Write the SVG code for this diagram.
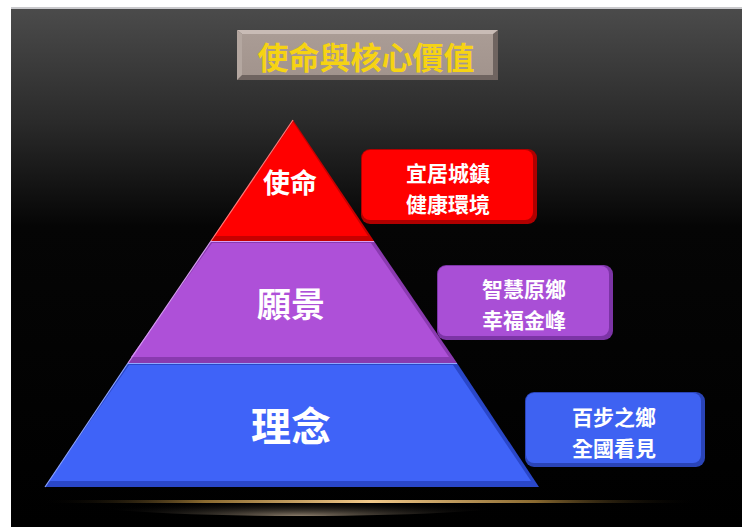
<svg xmlns="http://www.w3.org/2000/svg" width="742" height="527" viewBox="0 0 742 527">
<defs>
<linearGradient id="bg" x1="0" y1="0" x2="0" y2="1">
<stop offset="0" stop-color="#4b4b4b"/>
<stop offset="0.22" stop-color="#2a2a2a"/>
<stop offset="0.42" stop-color="#050505"/>
<stop offset="1" stop-color="#000"/>
</linearGradient>
<linearGradient id="line" x1="0" y1="0" x2="1" y2="0">
<stop offset="0" stop-color="#000" stop-opacity="0"/>
<stop offset="0.25" stop-color="#8a6a30"/>
<stop offset="0.5" stop-color="#f2c98a"/>
<stop offset="0.75" stop-color="#8a6a30"/>
<stop offset="1" stop-color="#000" stop-opacity="0"/>
</linearGradient>
<radialGradient id="glow" cx="0.5" cy="1" r="0.5">
<stop offset="0" stop-color="#9a8a76" stop-opacity="0.9"/>
<stop offset="1" stop-color="#000" stop-opacity="0"/>
</radialGradient>
<linearGradient id="titlefill" x1="0" y1="0" x2="0" y2="1">
<stop offset="0" stop-color="#aa9c95"/>
<stop offset="1" stop-color="#a2948d"/>
</linearGradient>
</defs>
<style>
.lbl{font-family:"Noto Sans CJK TC","Noto Sans CJK SC",sans-serif;font-weight:bold;fill:#fff;text-anchor:middle}
.box{font-family:"Noto Sans CJK TC","Noto Sans CJK SC",sans-serif;font-weight:bold;fill:#fff;text-anchor:middle;font-size:21px}
.title{font-family:"Noto Sans CJK TC","Noto Sans CJK SC",serif;font-weight:bold;fill:#f6d313;text-anchor:middle;font-size:31px}
.hl{fill:none;stroke-width:1.2}
</style>
<rect x="0" y="0" width="742" height="527" fill="#fff"/>
<rect x="11" y="7" width="731" height="2" fill="#c9c9cc"/>
<rect x="11" y="9" width="731" height="518" fill="url(#bg)"/>

<g id="title">
<rect x="237" y="30" width="261" height="50" fill="#6f6460"/>
<polygon points="237,30 498,30 493,34 242,34" fill="#c9bcb6"/>
<polygon points="237,30 242,34 242,75 237,80" fill="#b4a7a0"/>
<rect x="242" y="34" width="251" height="41" fill="url(#titlefill)"/>
<text class="title" x="366" y="69">使命與核心價值</text>
</g>

<g id="glow-line">
<ellipse cx="300" cy="501" rx="230" ry="15" fill="url(#glow)"/>
<rect x="40" y="500" width="660" height="3" fill="url(#line)"/>
</g>

<g id="mission">
<polygon points="293,120 374,241 211,241" fill="#c80000"/>
<polygon points="293,122 368,236 214,236" fill="#ff0000"/>
<line class="hl" x1="293" y1="120" x2="211" y2="241" stroke="#ff7a7a"/>
<text class="lbl" x="290" y="193" font-size="27">使命</text>
</g>

<g id="vision">
<polygon points="211,241 374,241 457,363 128,363" fill="#8a3ab0"/>
<polygon points="212,243 371,243 449,357 131,357" fill="#ae50d8"/>
<line x1="211" y1="241.5" x2="374" y2="241.5" stroke="#d9a0f0" stroke-width="1.2"/>
<line class="hl" x1="211" y1="241" x2="128" y2="363" stroke="#d49af0"/>
<text class="lbl" x="291" y="317" font-size="34">願景</text>
</g>

<g id="philosophy">
<polygon points="128,363 457,363 539,487 45,487" fill="#2a47c8"/>
<polygon points="129,365 453,365 531,481 49,481" fill="#3f63f8"/>
<line x1="128" y1="363.5" x2="457" y2="363.5" stroke="#93a8ff" stroke-width="1.2"/>
<line class="hl" x1="128" y1="363" x2="45" y2="487" stroke="#8aa2ff"/>
<text class="lbl" x="291" y="441" font-size="40">理念</text>
</g>

<g id="box-mission">
<rect x="361" y="149" width="176" height="75" rx="9" fill="#b00000"/>
<rect x="362" y="150" width="171" height="70" rx="8" fill="#ff0000"/>
<text class="box" x="448" y="181">宜居城鎮</text>
<text class="box" x="448" y="212">健康環境</text>
</g>

<g id="box-vision">
<rect x="437" y="265" width="176" height="75" rx="9" fill="#7c34a6"/>
<rect x="438" y="266" width="171" height="70" rx="8" fill="#a94fd6"/>
<text class="box" x="524" y="297">智慧原鄉</text>
<text class="box" x="524" y="328">幸福金峰</text>
</g>

<g id="box-philosophy">
<rect x="525" y="392" width="180" height="75" rx="9" fill="#2a44b8"/>
<rect x="526" y="393" width="175" height="70" rx="8" fill="#3e62f2"/>
<text class="box" x="614" y="425">百步之鄉</text>
<text class="box" x="614" y="456">全國看見</text>
</g>
</svg>
